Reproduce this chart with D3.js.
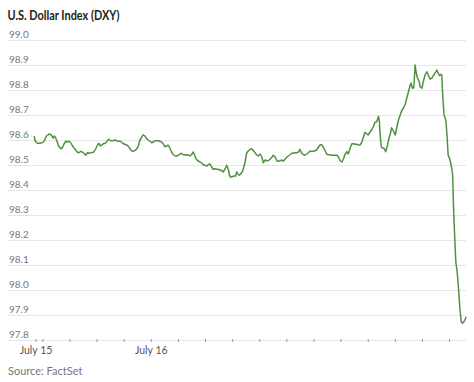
<!DOCTYPE html>
<html>
<head>
<meta charset="utf-8">
<script src="https://cdn.jsdelivr.net/npm/d3@7"></script>
<style>
  html, body { margin: 0; padding: 0; background: #fff; }
  svg { display: block; }
</style>
</head>
<body>
<svg id="chart" width="474" height="382"></svg>
<script>
// ---- Data ----
const title = "U.S. Dollar Index (DXY)";
const source = "Source: FactSet";
const startTime = "2025-07-15T19:40";
const endTime = "2025-07-16T11:40";
// minutes after startTime
const minutes = [2,4,9,14,19,24,29,33,36,40,44,46,49,52,56,61,64,68,72,75,79,83,86,90,94,97,101,105,108,112,116,120,123,128,134,138,142,145,149,154,159,163,167,171,176,181,187,193,198,204,208,212,216,219,224,228,232,
236,240,243,247,251,254,258,262,266,269,273,277,280,284,288,291,295,299,302,306,310,314,317,321,325,328,332,336,339,343,347,350,354,356,360,364,369,373,376,380,384,387,391,395,398,402,406,409,413,417,420,424,428,432,434,437,440,444,448,450,453,456,459,463,466,469,
472,476,480,483,487,491,494,498,502,506,509,513,517,520,524,528,531,535,539,542,546,550,553,557,561,564,568,572,575,579,583,587,590,594,598,601,605,609,612,616,620,623,627,631,635,638,642,646,649,653,657,660,664,668,672,675,679,683,686,
690,694,697,701,705,708,712,716,719,723,727,730,734,738,741,745,749,753,756,760,764,766,767,770,772,776,780,784,787,791,793,797,801,804,808,812,815,819,823,826,830,834,836,839,842,845,847,850,854,
856,860,863,867,871,874,878,882,885,889,893,896,899,902,904,906,909,911,913,916,918,921,923,926,928,930,933,935,938,941,944,947,950,953,955,958];
const values = [98.616,98.597,98.587,98.587,98.589,98.595,98.616,98.621,98.624,98.620,98.607,98.616,98.611,98.597,98.576,98.565,98.568,98.584,98.595,98.592,98.595,98.589,98.579,98.568,98.560,98.552,98.549,98.555,98.552,98.547,98.539,98.549,98.547,98.549,98.552,98.565,98.579,98.587,98.576,98.584,98.587,98.595,98.603,98.597,98.597,98.600,98.595,98.595,98.587,98.581,98.579,98.571,98.560,98.555,98.557,98.563,98.573,
98.600,98.611,98.621,98.616,98.605,98.600,98.595,98.589,98.592,98.597,98.597,98.597,98.595,98.592,98.584,98.573,98.576,98.579,98.568,98.552,98.541,98.536,98.536,98.539,98.544,98.547,98.541,98.541,98.539,98.541,98.536,98.541,98.552,98.544,98.525,98.517,98.512,98.507,98.501,98.499,98.496,98.501,98.504,98.491,98.483,98.485,98.483,98.483,98.480,98.477,98.472,98.483,98.499,98.480,98.459,98.451,98.453,98.456,98.456,98.472,98.464,98.459,98.464,98.475,98.493,98.515,
98.547,98.557,98.563,98.565,98.557,98.549,98.541,98.536,98.544,98.531,98.509,98.520,98.517,98.517,98.523,98.531,98.539,98.533,98.517,98.515,98.517,98.520,98.515,98.523,98.531,98.536,98.541,98.547,98.547,98.549,98.549,98.552,98.563,98.547,98.541,98.539,98.544,98.549,98.555,98.555,98.555,98.557,98.560,98.571,98.581,98.581,98.571,98.557,98.544,98.541,98.541,98.539,98.539,98.539,98.539,98.533,98.517,98.512,98.523,
98.543,98.553,98.545,98.567,98.585,98.585,98.583,98.583,98.580,98.580,98.591,98.609,98.631,98.625,98.620,98.631,98.641,98.655,98.671,98.673,98.695,98.673,98.633,98.572,98.569,98.567,98.553,98.580,98.607,98.631,98.649,98.636,98.620,98.647,98.679,98.700,98.716,98.727,98.743,98.764,98.791,98.820,98.828,98.807,98.809,98.900,98.873,98.849,98.833,
98.813,98.807,98.833,98.860,98.873,98.860,98.844,98.847,98.857,98.867,98.880,98.867,98.857,98.863,98.860,98.780,98.700,98.689,98.680,98.607,98.540,98.527,98.513,98.487,98.460,98.327,98.193,98.113,98.073,98.007,97.927,97.873,97.867,97.873,97.880,97.893];
const yTicks = [97.8,97.9,98.0,98.1,98.2,98.3,98.4,98.5,98.6,98.7,98.8,98.9,99.0];
const xTickStart = "2025-07-15T19:45";
const xTickLabels = [
  {time: "2025-07-15T19:45", label: "July 15"},
  {time: "2025-07-16T00:00", label: "July 16"}
];

// ---- Chart ----
const svg = d3.select("#chart");
const parse = s => new Date(s);
const t0 = parse(startTime);
const data = minutes.map((m, i) => ({t: new Date(t0.getTime() + m * 60000), v: values[i]}));

const x = d3.scaleTime().domain([t0, parse(endTime)]).range([33.3, 467.1]);
const y = d3.scaleLinear().domain([97.8, 99.0]).range([340, 40]);
const gridLeft = 8, gridRight = 466;

// title
svg.append("text")
  .attr("x", 7.5).attr("y", 19.5)
  .attr("font-family", "Lato, 'Noto Sans', sans-serif")
  .attr("font-weight", "bold").attr("font-size", 12.5)
  .attr("fill", "#222")
  .attr("textLength", 112).attr("lengthAdjust", "spacingAndGlyphs")
  .text(title);

// gridlines + y labels
const grid = svg.append("g");
grid.selectAll("line").data(yTicks).join("line")
  .attr("x1", gridLeft).attr("x2", gridRight)
  .attr("y1", d => Math.round(y(d)) + 0.5).attr("y2", d => Math.round(y(d)) + 0.5)
  .attr("stroke", "#e6e6e6").attr("stroke-width", 1);
grid.selectAll("text").data(yTicks).join("text")
  .attr("x", 9).attr("y", d => y(d) - 2)
  .attr("font-family", "Lato, 'Noto Sans', sans-serif")
  .attr("font-size", 10).attr("fill", "#777")
  .text(d => d.toFixed(1));

// x axis ticks
const hourTicks = d3.timeHour.range(d3.timeHour.ceil(t0), parse(endTime));
const allTicks = [parse(xTickStart)].concat(hourTicks);
const xAxis = d3.axisBottom(x)
  .tickValues(allTicks)
  .tickSize(3)
  .tickPadding(5)
  .tickFormat(d => {
    const f = xTickLabels.find(l => parse(l.time).getTime() === d.getTime());
    return f ? f.label : "";
  });
const gx = svg.append("g").attr("transform", "translate(0,339)").call(xAxis);
gx.select(".domain").remove();
gx.selectAll(".tick line").attr("stroke", "#999");
gx.selectAll(".tick text")
  .attr("font-family", "Lato, 'Noto Sans', sans-serif")
  .attr("font-size", 10.5).attr("fill", "#555");

// line
const line = d3.line().x(d => x(d.t)).y(d => y(d.v)).curve(d3.curveLinear);
svg.append("path").datum(data)
  .attr("d", line)
  .attr("fill", "none")
  .attr("stroke", "#4f9140")
  .attr("stroke-width", 1.5)
  .attr("stroke-linejoin", "round");

// source
svg.append("text")
  .attr("x", 8).attr("y", 375)
  .attr("font-family", "Lato, 'Noto Sans', sans-serif")
  .attr("font-size", 11).attr("fill", "#777")
  .text(source);
</script>
</body>
</html>
